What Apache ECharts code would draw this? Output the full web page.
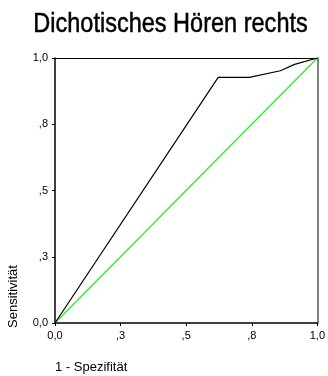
<!DOCTYPE html>
<html><head><meta charset="utf-8">
<script src="https://cdn.jsdelivr.net/npm/echarts@6/dist/echarts.min.js"></script>
<style>html,body{margin:0;padding:0;background:#fff}#c{width:328px;height:376px}</style>
</head><body><div id="c"></div>
<script>
const rocX = [0, 0.622, 0.741, 0.859, 0.913, 1];
const rocY = [0, 0.927, 0.927, 0.952, 0.976, 1];
const refX = [0, 1];
const refY = [0, 1];
const tickValues = [0, 0.25, 0.5, 0.75, 1];
const tickLabels = ['0,0', ',3', ',5', ',8', '1,0'];
const title = 'Dichotisches Hören rechts';
const xName = '1 - Spezifität';
const yName = 'Sensitivität';

function lab(v){ const i = tickValues.findIndex(t => Math.abs(t - v) < 1e-6); return i >= 0 ? tickLabels[i] : ''; }
const font = 'Liberation Sans, Arial, sans-serif';
const chart = echarts.init(document.getElementById('c'), null, {renderer: 'canvas'});
chart.setOption({
  animation: false,
  grid: {left: 55, right: 9, top: 58, bottom: 53},
  xAxis: [{type: 'value', min: 0, max: 1, interval: 0.25,
      axisLine: {onZero: false, lineStyle: {color: '#000', width: 1.5}},
      axisTick: {length: 3, lineStyle: {color: '#000'}},
      axisLabel: {formatter: lab, fontFamily: font, fontSize: 11, color: '#000', margin: 7},
      splitLine: {show: false}},
    {type: 'value', min: 0, max: 1, position: 'top',
      axisLine: {show: true, onZero: false, lineStyle: {color: '#000', width: 1}},
      axisTick: {show: false}, axisLabel: {show: false}, splitLine: {show: false}}],
  yAxis: [{type: 'value', min: 0, max: 1, interval: 0.25,
      axisLine: {onZero: false, lineStyle: {color: '#000', width: 1.5}},
      axisTick: {length: 3, lineStyle: {color: '#000'}},
      axisLabel: {formatter: lab, fontFamily: font, fontSize: 11, color: '#000', margin: 7},
      splitLine: {show: false}},
    {type: 'value', min: 0, max: 1, position: 'right',
      axisLine: {show: true, onZero: false, lineStyle: {color: '#808080', width: 2}},
      axisTick: {show: false}, axisLabel: {show: false}, splitLine: {show: false}}],
  graphic: [
    {type: 'text', x: 170.5, y: 24, scaleX: 0.84, scaleY: 1,
      style: {text: title, font: '28px ' + font, fill: '#000', stroke: '#000', lineWidth: 0.5, textAlign: 'center', textVerticalAlign: 'middle'}},
    {type: 'text', left: 55, top: 361, style: {text: xName, font: '13px ' + font, fill: '#000'}},
    {type: 'text', x: 7, y: 328, rotation: Math.PI / 2, style: {text: yName, font: '13px ' + font, fill: '#000', textAlign: 'left', textVerticalAlign: 'top'}}
  ],
  series: [
    {type: 'line', data: refX.map((x, i) => [x, refY[i]]), symbol: 'none',
      lineStyle: {color: '#22ee22', width: 1.2}, z: 2},
    {type: 'line', data: rocX.map((x, i) => [x, rocY[i]]), symbol: 'none',
      lineStyle: {color: '#000', width: 1.2}, z: 3}
  ]
});
</script></body></html>
